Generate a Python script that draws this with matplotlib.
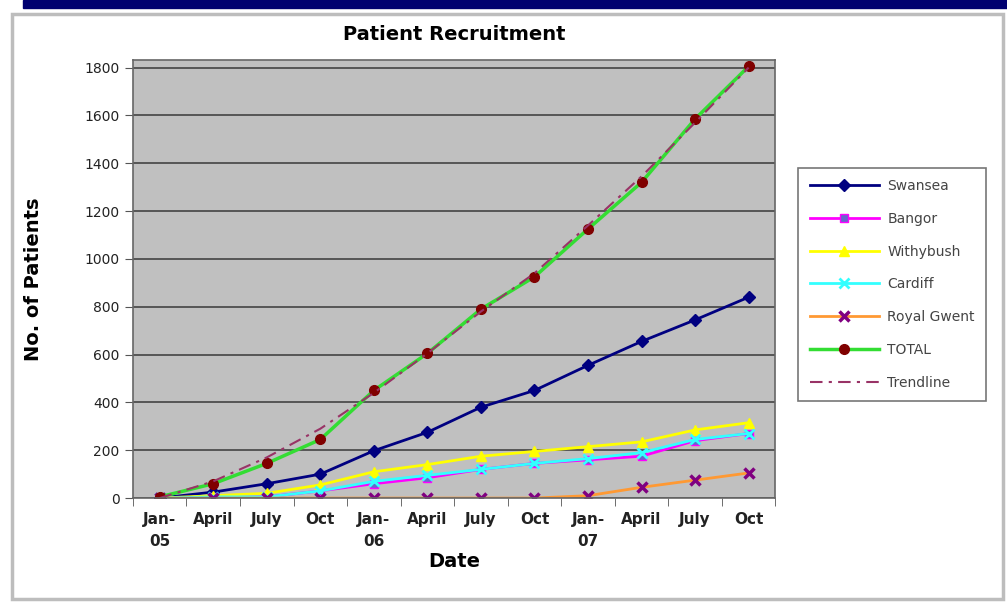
import matplotlib.pyplot as plt
from matplotlib.patches import Rectangle
import numpy as np

dates = ['Jan-\n05', 'April', 'July', 'Oct', 'Jan-\n06', 'April', 'July', 'Oct',
         'Jan-\n07', 'April', 'July', 'Oct']

swansea = [0, 25, 60, 100, 198, 275, 380, 450, 555, 655, 745, 840]
bangor = [0, 5, 5, 30, 60, 85, 120, 145, 160, 175, 240, 270]
withybush = [0, 10, 20, 55, 110, 140, 175, 195, 215, 235, 285, 315]
cardiff = [0, 5, 5, 30, 70, 95, 120, 145, 165, 190, 245, 270]
royal_gwent = [0, 0, 0, 0, 0, 0, 0, 0, 10, 45, 75, 105]
total = [5, 60, 145, 245, 450, 605, 790, 925, 1125, 1320, 1585, 1805]
trendline = [0, 70, 170, 290, 440, 605, 780, 940, 1140, 1345, 1570, 1800]

fig = plt.figure(figsize=(10.07, 6.03), dpi=100)
# frame bits around the chart
fig.patches.append(Rectangle((0.023, 0.987), 0.977, 0.013, transform=fig.transFigure,
                             color='#000070', zorder=0))
fig.patches.append(Rectangle((0.012, 0.007), 0.984, 0.97, transform=fig.transFigure,
                             fill=False, edgecolor='#bdbdbd', linewidth=2.5, zorder=0))

ax = fig.add_axes([0.132, 0.174, 0.638, 0.727])
ax.set_facecolor('#c0c0c0')
x = np.arange(len(dates))

ax.plot(x, swansea, color='#000080', marker='D', markersize=6, linewidth=2, label='Swansea')
ax.plot(x, bangor, color='#ff00ff', marker='s', markersize=6, markerfacecolor='#6666cc',
        markeredgecolor='#ff00ff', linewidth=2, label='Bangor')
ax.plot(x, withybush, color='#ffff00', marker='^', markersize=7, linewidth=2, label='Withybush')
ax.plot(x, cardiff, color='#33ffff', marker='x', markersize=7, markeredgewidth=2,
        linewidth=2, label='Cardiff')
ax.plot(x, royal_gwent, color='#ff9933', marker='x', markersize=7, markeredgewidth=2.5,
        markeredgecolor='#800080', linewidth=2, label='Royal Gwent')
ax.plot(x, total, color='#33dd33', marker='o', markersize=7, markerfacecolor='#800000',
        markeredgecolor='#800000', linewidth=2.5, label='TOTAL')
ax.plot(x, trendline, color='#993366', linestyle=(0, (6, 3, 1.5, 3)), linewidth=1.5,
        label='Trendline')

ax.set_xlim(-0.5, len(dates) - 0.5)
ax.set_ylim(0, 1833)
ax.set_yticks(np.arange(0, 1801, 200))
ax.yaxis.grid(True, color='#444444', linewidth=1.2)
ax.set_axisbelow(True)
ax.set_xticks(x)
ax.set_xticklabels(dates, fontsize=11, fontweight='bold', color='#222222', linespacing=1.6,
                   va='top')
ax.set_xticks(np.arange(-0.5, len(dates)), minor=True)
ax.tick_params(axis='x', which='major', length=0, pad=10)
ax.tick_params(axis='x', which='minor', length=6, color='#555555')
ax.tick_params(axis='y', labelsize=10, colors='#222222', length=6, color='#555555')
for s in ax.spines.values():
    s.set_color('#666666')
    s.set_linewidth(1.2)

ax.set_title('Patient Recruitment', fontsize=14, fontweight='bold', pad=14)
ax.set_xlabel('Date', fontsize=14, fontweight='bold', labelpad=2)
ax.set_ylabel('No. of Patients', fontsize=14, fontweight='bold', labelpad=30)

leg = fig.legend(loc='upper left', bbox_to_anchor=(0.786, 0.733), fontsize=10,
                 frameon=True, fancybox=False, edgecolor='#555555', handlelength=5,
                 labelspacing=1.35, borderpad=0.8, handletextpad=0.6)
leg.get_frame().set_linewidth(1.2)
for t in leg.get_texts():
    t.set_color('#444444')

fig.savefig('out.png', dpi=100)
